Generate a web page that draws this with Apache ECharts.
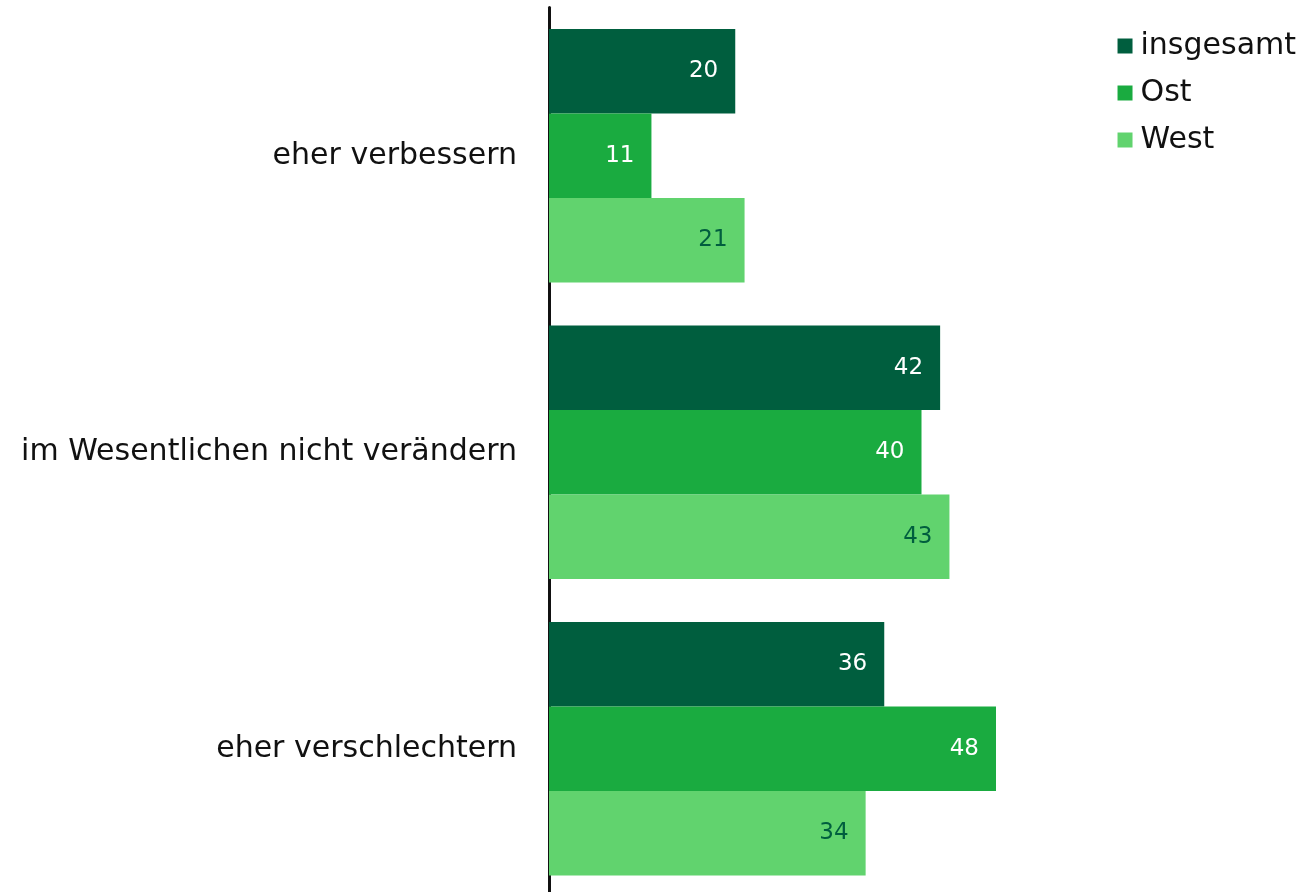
<!DOCTYPE html>
<html><head><meta charset="utf-8">
<script src="https://cdn.jsdelivr.net/npm/echarts@6/dist/echarts.min.js"></script>
<style>html,body{margin:0;padding:0;background:#fff}#c{width:1307px;height:892px}</style>
</head><body><div id="c"></div>
<script>
var categories = ['eher verbessern', 'im Wesentlichen nicht verändern', 'eher verschlechtern'];
var seriesNames = ['insgesamt', 'Ost', 'West'];
var insgesamt = [20, 42, 36];
var ost = [11, 40, 48];
var west = [21, 43, 34];
var colors = ['#005e3e', '#1aab40', '#61d36e'];
var labelColors = ['#ffffff', '#ffffff', '#005e3e'];
var values = [insgesamt, ost, west];
var font = 'DejaVu Sans';
var chart = echarts.init(document.getElementById('c'));
chart.setOption({
  animation: false,
  textStyle: {fontFamily: font},
  legend: {
    orient: 'vertical', right: 6, top: 26, itemWidth: 15, itemHeight: 15, itemGap: 17, icon: 'rect',
    textStyle: {fontSize: 30, color: '#111', fontFamily: font, padding: [0,0,0,3]},
    data: seriesNames
  },
  grid: {left: 549, top: 7.5, width: 745, height: 889.5, containLabel: false, outerBoundsMode: 'none'},
  xAxis: {type: 'value', min: 0, max: 80, show: false},
  yAxis: {
    type: 'category', inverse: true, data: categories,
    axisLine: {show: true, lineStyle: {color: '#111', width: 3}},
    axisTick: {show: false},
    axisLabel: {fontSize: 30, color: '#111', margin: 32, fontFamily: font}
  },
  series: values.map(function (v, i) {
    return {
      name: seriesNames[i], type: 'bar', data: v, barGap: '0%', barCategoryGap: '14.5%',
      itemStyle: {color: colors[i]},
      label: {show: true, position: 'insideRight', distance: 17, color: labelColors[i], fontSize: 23, fontFamily: font}
    };
  })
});
</script></body></html>
